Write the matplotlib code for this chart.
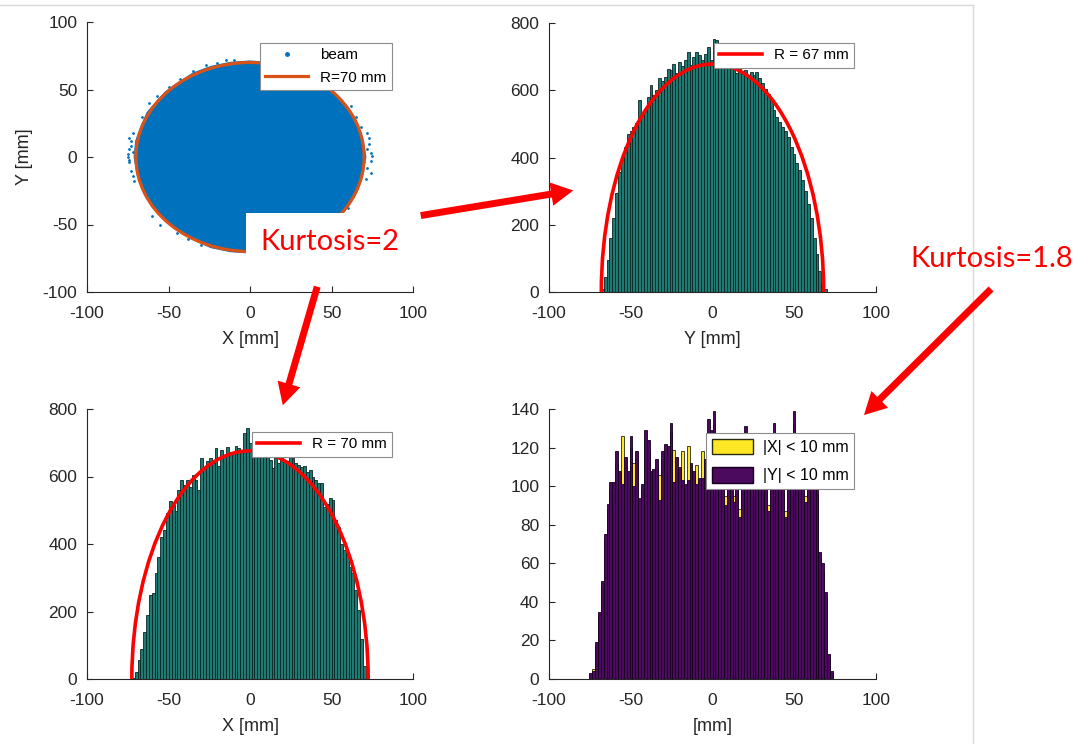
import matplotlib.pyplot as plt
import numpy as np
from matplotlib.patches import Ellipse, Circle, Rectangle, Polygon, FancyArrowPatch, Patch
from matplotlib.lines import Line2D

# ---- data ----
# beam outline (mm) and stray points outside it
beam_x = [-71, -70, -67, -63, -58, -52, -44, -35, -24, -12, 0, 12, 24, 35, 45, 53, 60, 65, 69, 71,
          69, 65, 60, 53, 45, 35, 24, 12, 0, -12, -24, -35, -45, -53, -60, -65, -69]
beam_y = [0, 12, 22, 33, 40, 48, 55, 62, 67, 70, 71, 70, 67, 61, 54, 46, 37, 27, 14, 0,
          -14, -27, -37, -46, -54, -61, -67, -70, -71, -70, -67, -61, -54, -46, -37, -27, -14]
stray_x = [-74, -75, -73, -74, -72, -73, -75, -74, -72, -73, -71, -72, -74, 73, 74, 75, 72, 74, 73, 72, 74, 71, 72,
           -62, -57, -50, -43, -35, -27, -20, -15, -10, -45, -38, -30, -60, 62, 65, 68, 60, -66, -55]
stray_y = [14, 2, 8, -4, 18, -10, 0, 6, -14, 12, -18, 4, -2, 10, 3, 1, -8, -3, 14, 18, -12, -16, 6,
           40, 45, 52, 58, 64, 68, 70, 72, 72, -56, -61, -65, -44, 38, 30, 22, -38, 30, -50]
circle_R = 70

bin_w = 1.75

# Y histogram (top right), first bin edge -70
y_edge0 = -70
y_counts = [0, 8, 45, 95, 160, 219, 293, 357, 402, 432, 471, 478, 491, 502, 570, 530, 545, 580, 615, 586,
            600, 635, 628, 640, 664, 660, 678, 650, 684, 672, 690, 714, 676, 700, 714, 706, 690, 709, 729, 690,
            753, 749, 700, 690, 676, 680, 668, 672, 650, 664, 658, 660, 642, 654, 646, 654, 635, 622, 605, 590,
            575, 541, 520, 505, 490, 478, 460, 430, 410, 385, 362, 332, 300, 262, 220, 160, 112, 62, 24, 8]
y_fit_halfwidth = 68
y_fit_peak = 678

# X histogram (bottom left), first bin edge -72.5
x_edge0 = -72.5
x_counts = [4, 22, 55, 90, 140, 190, 250, 255, 315, 362, 422, 442, 491, 526, 515, 497, 560, 590, 575, 590,
            570, 605, 590, 560, 654, 625, 645, 654, 640, 684, 630, 679, 665, 687, 674, 670, 691, 684, 676, 730,
            744, 700, 690, 660, 675, 668, 680, 660, 650, 625, 655, 640, 660, 650, 645, 660, 654, 640, 635, 628,
            630, 612, 620, 600, 590, 580, 580, 511, 520, 535, 530, 471, 451, 400, 382, 372, 333, 313, 263, 204,
            120, 40, 6]
x_fit_halfwidth = 72.5
x_fit_peak = 676

# slices (bottom right), first bin edge -75.25
s_edge0 = -75.25
absy_counts = [3, 4, 19, 35, 51, 75, 91, 102, 102, 118, 108, 101, 115, 108, 126, 100, 118, 94, 101, 129,
               124, 108, 109, 114, 93, 118, 122, 121, 133, 102, 115, 110, 103, 101, 103, 112, 108, 101, 104, 104,
               114, 135, 129, 139, 110, 112, 105, 90, 108, 102, 92, 105, 84, 112, 131, 110, 106, 118, 104, 110,
               116, 108, 87, 112, 133, 110, 104, 112, 84, 108, 117, 139, 112, 105, 110, 92, 108, 104, 110, 100,
               66, 60, 45, 13, 4]
absx_counts = [2, 5, 17, 33, 48, 72, 88, 98, 100, 112, 105, 126, 110, 104, 120, 112, 114, 92, 98, 124,
               118, 104, 106, 110, 106, 114, 118, 116, 128, 119, 110, 106, 118, 98, 121, 108, 104, 111, 100, 118,
               110, 128, 124, 132, 106, 108, 102, 95, 104, 98, 95, 100, 88, 108, 125, 106, 102, 112, 100, 106,
               110, 104, 90, 108, 126, 106, 100, 108, 87, 104, 112, 132, 108, 100, 106, 95, 104, 100, 106, 96,
               62, 56, 42, 11, 3]

W, H = 1078, 744
plt.rcParams['font.family'] = 'Liberation Sans'
plt.rcParams['axes.unicode_minus'] = False
fig = plt.figure(figsize=(W / 100, H / 100), dpi=100)

def fx(px):
    return px / W

def fy(py):
    return 1 - py / H

def style(ax):
    for s in ['top', 'right']:
        ax.spines[s].set_visible(False)
    for s in ['left', 'bottom']:
        ax.spines[s].set_color('#262626')
        ax.spines[s].set_linewidth(0.8)
    ax.tick_params(direction='in', length=4, width=0.8, colors='#262626', labelsize=12.5)
    ax.tick_params(axis='x', pad=10)
    ax.tick_params(axis='y', pad=7)
    ax.set_xlim(-100, 100)
    ax.set_xticks([-100, -50, 0, 50, 100])

def leg(ax, handles, labels, right, top, fs=11, **kw):
    lg = ax.legend(handles, labels, loc='upper right', bbox_to_anchor=(right, top),
                   borderaxespad=0, fancybox=False, framealpha=1, edgecolor='#8c8c8c',
                   fontsize=fs, borderpad=0.35, **kw)
    lg.get_frame().set_linewidth(0.8)
    return lg

teal = '#1f7a73'
teal_edge = '#0a2523'
lab = dict(fontsize=13, color='#262626', labelpad=7)

# top left: beam
ax1 = fig.add_axes([fx(87), fy(292), 326 / W, 270 / H])
style(ax1)
ax1.add_patch(Polygon(np.column_stack([beam_x, beam_y]), closed=True, facecolor='#0072BD',
                      edgecolor='#0072BD', lw=1, zorder=2))
ax1.plot(stray_x, stray_y, ls='none', marker='.', ms=2, color='#0072BD', zorder=2)
ax1.add_patch(Circle((0, 0), circle_R, fill=False, edgecolor='#D95319', lw=2.3, zorder=3))
ax1.set_ylim(-100, 100)
ax1.set_yticks([-100, -50, 0, 50, 100])
ax1.set_xlabel('X [mm]', **lab)
ax1.set_ylabel('Y [mm]', fontsize=13, color='#262626', labelpad=7)
leg(ax1, [Line2D([], [], ls='none', marker='.', ms=5, color='#0072BD'),
          Line2D([], [], color='#D95319', lw=2.3)], ['beam', 'R=70 mm'], 0.935, 0.922,
    handlelength=2.8, labelspacing=0.55)

# top right: Y histogram
ax2 = fig.add_axes([fx(549), fy(292), 327 / W, 269 / H])
style(ax2)
edges = y_edge0 + bin_w * np.arange(len(y_counts))
ax2.bar(edges, y_counts, width=bin_w, align='edge', color=teal, edgecolor=teal_edge, lw=0.6, zorder=2)
ax2.add_patch(Ellipse((0, 0), 2 * y_fit_halfwidth, 2 * y_fit_peak, fill=False, edgecolor='red', lw=2.6, zorder=3))
ax2.set_ylim(0, 800)
ax2.set_yticks(range(0, 801, 200))
ax2.set_xlabel('Y [mm]', **lab)
leg(ax2, [Line2D([], [], color='red', lw=2.6)], ['R = 67 mm'], 0.933, 0.926, handlelength=2.8)

# bottom left: X histogram
ax3 = fig.add_axes([fx(87), fy(679), 326 / W, 270 / H])
style(ax3)
edges = x_edge0 + bin_w * np.arange(len(x_counts))
ax3.bar(edges, x_counts, width=bin_w, align='edge', color=teal, edgecolor=teal_edge, lw=0.6, zorder=2)
ax3.add_patch(Ellipse((0, 0), 2 * x_fit_halfwidth, 2 * x_fit_peak, fill=False, edgecolor='red', lw=2.6, zorder=3))
ax3.set_ylim(0, 800)
ax3.set_yticks(range(0, 801, 200))
ax3.set_xlabel('X [mm]', **lab)
leg(ax3, [Line2D([], [], color='red', lw=2.6)], ['R = 70 mm'], 0.936, 0.915, handlelength=2.8)

# bottom right: slices
ax4 = fig.add_axes([fx(549), fy(679), 327 / W, 270 / H])
style(ax4)
edges = s_edge0 + bin_w * np.arange(len(absy_counts))
ax4.bar(edges, absx_counts, width=bin_w, align='edge', color='#FDE725', edgecolor='#2a2a10', lw=0.6, zorder=2)
ax4.bar(edges, absy_counts, width=bin_w, align='edge', color='#4b0a5e', edgecolor='#14001c', lw=0.6, zorder=2)
ax4.set_ylim(0, 140)
ax4.set_yticks(range(0, 141, 20))
ax4.set_xlabel('[mm]', **lab)
leg(ax4, [Patch(facecolor='#FDE725', edgecolor='#2a2a10'), Patch(facecolor='#4b0a5e', edgecolor='#14001c')],
    ['|X| < 10 mm', '|Y| < 10 mm'], 0.933, 0.911, fs=11.5, handlelength=2.6, handleheight=1.15,
    labelspacing=0.75, handletextpad=0.6)

# slide decorations
fig.add_artist(Line2D([0, fx(973)], [fy(5), fy(5)], color='#d9d9d9', lw=1))
fig.add_artist(Line2D([fx(973), fx(973)], [fy(5), 0], color='#d9d9d9', lw=1))
fig.add_artist(Rectangle((fx(246), fy(272)), (420 - 246) / W, (272 - 213) / H, transform=fig.transFigure,
                         facecolor='white', edgecolor='none', zorder=5))
fig.text(fx(330), fy(242), 'Kurtosis=2', color='red', fontsize=21, family='Lato',
         ha='center', va='center', zorder=6)
fig.text(fx(992), fy(259), 'Kurtosis=1.8', color='red', fontsize=21, family='Lato',
         ha='center', va='center', zorder=6)

arrows = [((418, 216), (576, 190)), ((318, 284), (282, 408)), ((993, 287), (862, 417))]
for (x0, y0), (x1, y1) in arrows:
    fig.add_artist(FancyArrowPatch((fx(x0), fy(y0)), (fx(x1), fy(y1)), transform=fig.transFigure,
                                   arrowstyle='simple,head_length=1.6,head_width=1.7,tail_width=0.5',
                                   mutation_scale=10, color='red', lw=0, zorder=6))

fig.savefig('out.png', dpi=100)
